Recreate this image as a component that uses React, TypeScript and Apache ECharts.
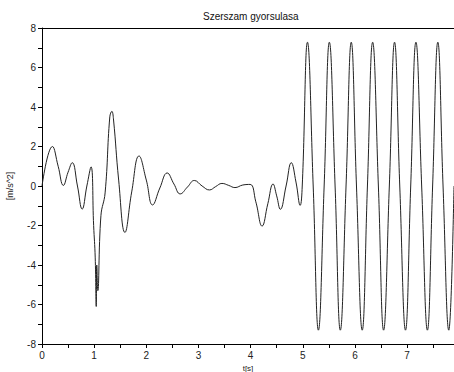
import React, { useEffect, useRef } from "react";
import * as echarts from "echarts";

const titleText = "Szerszam gyorsulasa";
const xName = "t[s]";
const yName = "[m/s^2]";

const xTickValues = [0, 0.5, 1, 1.5, 2, 2.5, 3, 3.5, 4, 4.5, 5, 5.5, 6, 6.5, 7, 7.5];
const xLabelValues = [0, 1, 2, 3, 4, 5, 6, 7];

// time [s]
const timeValues = [
  0.0, 0.2, 0.31, 0.41, 0.5, 0.58, 0.68, 0.77, 0.86, 0.94,
  0.99, 1.02, 1.04, 1.05, 1.07, 1.13, 1.21, 1.3, 1.34, 1.37, 1.47, 1.59, 1.72, 1.86,
  2.0, 2.12, 2.26, 2.4, 2.53, 2.65, 2.79, 2.92, 3.07, 3.21, 3.33, 3.45, 3.58, 3.7, 3.85, 3.99,
  4.1, 4.22, 4.33, 4.43, 4.5, 4.57, 4.68, 4.78, 4.87, 4.95, 4.99,
  5.09, 5.2, 5.3, 5.41, 5.51, 5.62, 5.72, 5.83, 5.93, 6.03, 6.14, 6.24, 6.34, 6.45, 6.55,
  6.66, 6.76, 6.86, 6.97, 7.07, 7.17, 7.28, 7.39, 7.49, 7.59, 7.69, 7.8, 7.9,
];

// acceleration [m/s^2]
const accelValues = [
  0.0, 2.0, 1.0, 0.03, 0.7, 1.18, 0.0, -1.17, 0.0, 0.97,
  -2.0, -3.6, -6.1, -4.0, -5.3, -1.5, -0.35, 3.5, 3.78, 3.4, 0.3, -2.35, -0.3, 1.52,
  0.3, -0.96, -0.1, 0.66, 0.1, -0.4, -0.05, 0.28, 0.0, -0.2, -0.03, 0.13, 0.03, -0.08, 0.05, 0.08,
  -0.8, -2.03, -0.9, 0.1, -0.5, -1.18, 0.0, 1.18, 0.2, -0.98, 0.0,
  7.28, 0.0, -7.3, 0.0, 7.28, 0.0, -7.3, 0.0, 7.28, 0.0, -7.3, 0.0, 7.28, 0.0, -7.3,
  0.0, 7.28, 0.0, -7.3, 0.0, 7.28, 0.0, -7.3, 0.0, 7.28, 0.0, -7.3, 0.0,
];

export default function App() {
  const ref = useRef<HTMLDivElement>(null);
  useEffect(() => {
    if (!ref.current) return;
    const chart = echarts.init(ref.current, undefined, { renderer: "svg" });
    const font = "Liberation Sans, Arial, sans-serif";
    const data = timeValues.map((t, i) => [t, accelValues[i]]);
    chart.setOption({
      animation: false,
      backgroundColor: "#ffffff",
      title: {
        text: titleText,
        left: 203,
        top: 11,
        padding: 0,
        textStyle: { fontSize: 10, fontWeight: "normal", color: "#111", fontFamily: font },
      },
      grid: { left: 42, right: 0, top: 28, bottom: 28, containLabel: false, outerBoundsMode: "none" },
      xAxis: [
        {
          type: "value",
          min: 0,
          max: 7.9,
          position: "bottom",
          name: xName,
          nameLocation: "middle",
          nameGap: 20,
          nameTextStyle: { fontSize: 8, color: "#222", fontFamily: font },
          axisLine: { show: true, onZero: false, lineStyle: { color: "#000", width: 1 } },
          axisTick: { show: true, length: 4, inside: false, customValues: xTickValues, lineStyle: { color: "#000" } },
          axisLabel: { show: true, customValues: xLabelValues, margin: 6, fontSize: 10, color: "#222", fontFamily: font },
          splitLine: { show: false },
        },
        {
          type: "value",
          min: 0,
          max: 7.9,
          position: "top",
          axisLine: { show: true, onZero: false, lineStyle: { color: "#000", width: 1 } },
          axisTick: { show: false },
          axisLabel: { show: false },
          splitLine: { show: false },
        },
      ],
      yAxis: {
        type: "value",
        min: -8,
        max: 8,
        interval: 1,
        name: yName,
        nameLocation: "middle",
        nameGap: 28,
        nameRotate: 90,
        nameTextStyle: { fontSize: 9, color: "#222", fontFamily: font },
        axisLine: { show: true, onZero: false, lineStyle: { color: "#000", width: 1 } },
        axisTick: { show: true, length: 4, lineStyle: { color: "#000" } },
        axisLabel: {
          margin: 6,
          fontSize: 10,
          color: "#222",
          fontFamily: font,
          formatter: (v: number) => (Math.round(v) % 2 === 0 ? String(v) : ""),
        },
        splitLine: { show: false },
      },
      series: [
        {
          type: "line",
          data,
          xAxisIndex: 0,
          smooth: 0.45,
          showSymbol: false,
          symbol: "none",
          lineStyle: { color: "#222", width: 1 },
        },
      ],
    });
    return () => chart.dispose();
  }, []);
  return (
    <div
      ref={ref}
      style={{ position: "fixed", left: 0, top: 0, width: 454, height: 372, background: "#fff" }}
    />
  );
}
